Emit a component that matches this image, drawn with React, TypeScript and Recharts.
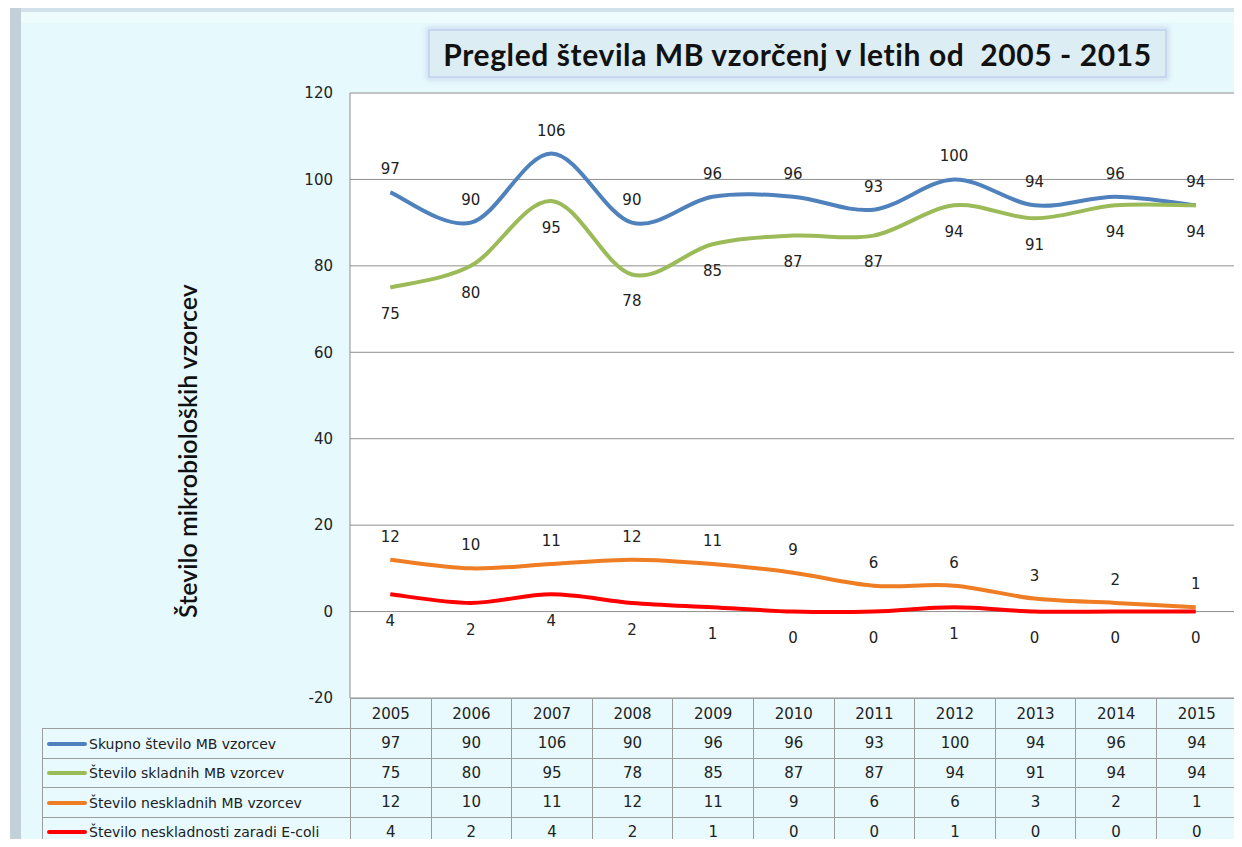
import { LineChart, Line, XAxis, YAxis, CartesianGrid, LabelList } from 'recharts';

const YEARS = ['2005', '2006', '2007', '2008', '2009', '2010', '2011', '2012', '2013', '2014', '2015'];
const SKUPNO = [97, 90, 106, 90, 96, 96, 93, 100, 94, 96, 94];
const SKLADNI = [75, 80, 95, 78, 85, 87, 87, 94, 91, 94, 94];
const NESKLADNI = [12, 10, 11, 12, 11, 9, 6, 6, 3, 2, 1];
const ECOLI = [4, 2, 4, 2, 1, 0, 0, 1, 0, 0, 0];
const Y_TICKS = [-20, 0, 20, 40, 60, 80, 100, 120];

const SERIES = [
    { key: 'skupno', name: 'Skupno število MB vzorcev', color: '#4f81bd', values: SKUPNO, labelPos: 'top' },
    { key: 'skladni', name: 'Število skladnih MB vzorcev', color: '#9bbb59', values: SKLADNI, labelPos: 'bottom' },
    { key: 'neskladni', name: 'Število neskladnih MB vzorcev', color: '#ee7d24', values: NESKLADNI, labelPos: 'top' },
    { key: 'ecoli', name: 'Število neskladnosti zaradi E-coli', color: '#ff0000', values: ECOLI, labelPos: 'bottom' },
];

const chartData = YEARS.map((year, i) => {
    const row: Record<string, string | number> = { year };
    SERIES.forEach(s => { row[s.key] = s.values[i]; });
    return row;
});

// excel-like smoothed line (catmull-rom through every point)
function excelSmooth(context: any) {
    let pts: number[][] = [];
    return {
        areaStart() {},
        areaEnd() {},
        lineStart() { pts = []; },
        point(x: number, y: number) { pts.push([+x, +y]); },
        lineEnd() {
            if (!pts.length) return;
            context.moveTo(pts[0][0], pts[0][1]);
            for (let i = 0; i < pts.length - 1; i++) {
                const p0 = pts[i - 1] || pts[i];
                const p1 = pts[i];
                const p2 = pts[i + 1];
                const p3 = pts[i + 2] || p2;
                context.bezierCurveTo(
                    p1[0] + (p2[0] - p0[0]) / 6, p1[1] + (p2[1] - p0[1]) / 6,
                    p2[0] - (p3[0] - p1[0]) / 6, p2[1] - (p3[1] - p1[1]) / 6,
                    p2[0], p2[1]
                );
            }
        },
    };
}

const NUM_FONT = '"DejaVu Sans", Verdana, sans-serif';
const cellBorder = '1px solid #9c9c9c';

export default function App() {
    return (
        <div style={{ position: 'relative', width: 1242, height: 847, margin: -8, overflow: 'hidden', background: '#fff' }}>
            {/* caption, partly above the visible area like in the source */}
            <div style={{ position: 'absolute', left: 2, top: -9, fontFamily: NUM_FONT, fontWeight: 700, fontSize: 19, lineHeight: '20px', whiteSpace: 'nowrap', color: '#111' }}>
                Graf 5: Pregled skladnosti (MB) mikrobioloških vzorcev pitne vode po letih
            </div>

            {/* chart frame */}
            <div style={{ position: 'absolute', left: 10, top: 8, right: 0, bottom: 0, background: '#c2d1d9' }} />
            <div style={{ position: 'absolute', left: 21, top: 8, right: 0, height: 4, background: '#d3e2ea' }} />
            <div style={{ position: 'absolute', left: 21, top: 12, right: 0, bottom: 0, background: '#e6f9fc' }} />
            <div style={{ position: 'absolute', left: 21, top: 12, right: 0, height: 11, background: '#effcfd' }} />

            <div style={{ position: 'absolute', left: 0, top: 0 }}>
                <LineChart width={1242} height={847} data={chartData} margin={{ top: 93, right: 6, bottom: 149, left: 290 }}>
                    <CartesianGrid vertical={false} stroke="#8e8e8e" fill="#ffffff" fillOpacity={1} />
                    <XAxis dataKey="year" hide padding={{ left: 40.27, right: 40.27 }} />
                    <YAxis
                        width={60}
                        domain={[-20, 120]}
                        ticks={Y_TICKS}
                        interval={0}
                        stroke="#8e8e8e"
                        tickLine={false}
                        tickMargin={11}
                        tick={{ fill: '#222', fontSize: 15, fontFamily: NUM_FONT }}
                    />
                    {SERIES.map(s => (
                        <Line
                            key={s.key}
                            type={excelSmooth as any}
                            dataKey={s.key}
                            name={s.name}
                            stroke={s.color}
                            strokeWidth={4}
                            dot={false}
                            activeDot={false}
                            isAnimationActive={false}
                        >
                            <LabelList
                                dataKey={s.key}
                                position={s.labelPos as any}
                                offset={s.labelPos === 'top' ? 18 : 21}
                                style={{ fill: '#222', fontSize: 15, fontFamily: NUM_FONT }}
                            />
                        </Line>
                    ))}
                </LineChart>
            </div>

            {/* title */}
            <div style={{
                position: 'absolute', left: 428, top: 29, width: 735, height: 45,
                background: '#dcedf4', border: '2px solid #c5d7ef', boxShadow: '0 0 5px 2px #d0def2',
                display: 'flex', alignItems: 'center', justifyContent: 'center',
                fontFamily: 'Lato, sans-serif', fontWeight: 700, fontSize: 30, letterSpacing: 0.6, color: '#111', whiteSpace: 'pre',
            }}>
                {'Pregled števila MB vzorčenj v letih od  2005 - 2015'}
            </div>

            {/* y axis title */}
            <div style={{
                position: 'absolute', left: 187, top: 451, transform: 'translate(-50%, -50%) rotate(-90deg)',
                fontFamily: 'Lato, sans-serif', fontSize: 25, fontWeight: 600, color: '#111', whiteSpace: 'nowrap',
            }}>
                Število mikrobioloških vzorcev
            </div>

            {/* data table */}
            <table style={{
                position: 'absolute', left: 42, top: 698, borderCollapse: 'collapse', tableLayout: 'fixed',
                width: 1195, fontFamily: NUM_FONT, fontSize: 15, color: '#222',
            }}>
                <colgroup>
                    <col style={{ width: 308 }} />
                    {YEARS.map(y => <col key={y} style={{ width: 80.6 }} />)}
                </colgroup>
                <tbody>
                    <tr style={{ height: 30 }}>
                        <td style={{ border: 'none', padding: 0 }} />
                        {YEARS.map(y => (
                            <td key={y} style={{ border: cellBorder, textAlign: 'center', padding: 0, background: '#e8fafd' }}>{y}</td>
                        ))}
                    </tr>
                    {SERIES.map(s => (
                        <tr key={s.key} style={{ height: 29.5 }}>
                            <td style={{ border: cellBorder, padding: 0, background: '#e8fafd', whiteSpace: 'nowrap', fontSize: 14 }}>
                                <span style={{ display: 'inline-block', width: 40, height: 4, background: s.color, borderRadius: 2, verticalAlign: 'middle', marginLeft: 4, marginRight: 2 }} />
                                <span style={{ verticalAlign: 'middle' }}>{s.name}</span>
                            </td>
                            {s.values.map((v, i) => (
                                <td key={i} style={{ border: cellBorder, textAlign: 'center', padding: 0, background: '#e8fafd' }}>{v}</td>
                            ))}
                        </tr>
                    ))}
                </tbody>
            </table>
        </div>
    );
}
